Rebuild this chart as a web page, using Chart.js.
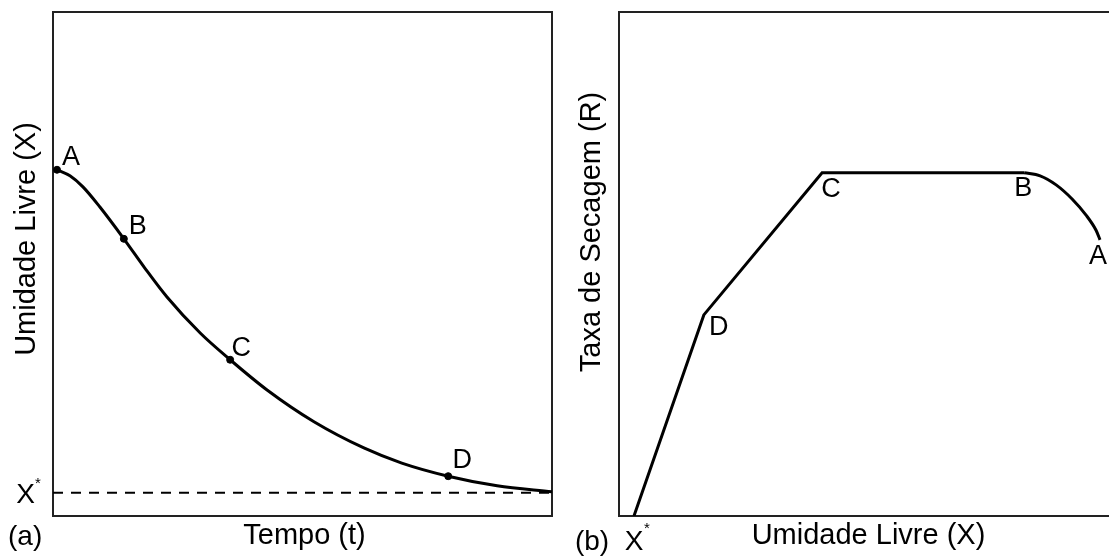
<!DOCTYPE html>
<html>
<head>
<meta charset="utf-8">
<script src="https://cdn.jsdelivr.net/npm/chart.js@4.4.1/dist/chart.umd.min.js"></script>
<style>
  html, body { margin: 0; padding: 0; background: #fff; overflow: hidden; width: 1109px; height: 557px; }
  canvas { position: absolute; top: 0; }
  #chartA { left: 0; }
  #chartB { left: 555px; }
</style>
</head>
<body>
<canvas id="chartA" width="585" height="557"></canvas>
<canvas id="chartB" width="590" height="557"></canvas>
<script>
// (a) curva de secagem: umidade livre x tempo
const tempo = [0.08, 0.34, 0.60, 0.94, 1.42, 1.84, 2.28, 2.95, 3.55, 4.29, 5.23, 6.23, 6.99, 7.92, 8.90, 10];
const umidade = [6.87, 6.75, 6.53, 6.13, 5.50, 4.92, 4.35, 3.63, 3.10, 2.50, 1.87, 1.35, 1.05, 0.79, 0.60, 0.48];
const pontosNomes = ['A', 'B', 'C', 'D'];
const pontosTempo = [0.08, 1.42, 3.55, 7.92];
const pontosUmidade = [6.87, 5.50, 3.10, 0.79];
const umidadeEquilibrio = 0.46;

// (b) taxa de secagem x umidade livre
const retaUmidade = [0.30, 1.70, 4.07, 8.12];
const retaTaxa = [0, 3.99, 6.81, 6.81];
const curvaUmidade = [8.12, 8.44, 8.76, 9.08, 9.36, 9.56, 9.64];
const curvaTaxa = [6.81, 6.75, 6.57, 6.29, 5.97, 5.67, 5.48];
const nomesB = ['A', 'B', 'C', 'D'];
const nomesBUmidade = [9.64, 8.12, 4.07, 1.70];
const nomesBTaxa = [5.48, 6.81, 6.81, 3.99];

const FONT = '"Liberation Sans", Arial, sans-serif';

function toXY(xs, ys) {
  return xs.map((x, i) => ({ x: x, y: ys[i] }));
}

// draws the frame around the plot area
const frame = {
  id: 'frame',
  beforeDatasetsDraw(chart) {
    const { ctx, chartArea: a } = chart;
    ctx.save();
    ctx.strokeStyle = '#222';
    ctx.lineWidth = 2;
    ctx.strokeRect(a.left, a.top, a.right - a.left, a.bottom - a.top);
    ctx.restore();
  }
};

function text(ctx, str, x, y, size, align) {
  ctx.font = size + 'px ' + FONT;
  ctx.textAlign = align || 'center';
  ctx.textBaseline = 'alphabetic';
  ctx.fillText(str, x, y);
}

function vtext(ctx, str, x, y, size) {
  ctx.save();
  ctx.translate(x, y);
  ctx.rotate(-Math.PI / 2);
  text(ctx, str, 0, 0, size);
  ctx.restore();
}

function pointLabels(chart, names, xs, ys, offsets) {
  const ctx = chart.ctx;
  const sx = chart.scales.x, sy = chart.scales.y;
  ctx.fillStyle = '#000';
  names.forEach((n, i) => {
    const px = sx.getPixelForValue(xs[i]) + offsets[i][0];
    const py = sy.getPixelForValue(ys[i]) + offsets[i][1];
    text(ctx, n, px, py + 0.358 * 27, 27);
  });
}

const labelsA = {
  id: 'labelsA',
  afterDraw(chart) {
    const { ctx, chartArea: a } = chart;
    const sy = chart.scales.y;
    ctx.save();
    ctx.fillStyle = '#000';
    pointLabels(chart, pontosNomes, pontosTempo, pontosUmidade, [[14, -14], [14, -14], [11, -13], [14, -18]]);
    vtext(ctx, 'Umidade Livre (X)', a.left - 18, a.top + 227, 29);
    text(ctx, 'Tempo (t)', (a.left + a.right) / 2 + 2, a.bottom + 28, 29);
    text(ctx, '(a)', 8, a.bottom + 29, 28, 'left');
    const yEq = sy.getPixelForValue(umidadeEquilibrio);
    text(ctx, 'X', 25.5, yEq + 10, 28);
    text(ctx, '*', 38, yEq - 5, 15);
    ctx.restore();
  }
};

const labelsB = {
  id: 'labelsB',
  afterDraw(chart) {
    const { ctx, chartArea: a } = chart;
    const sx = chart.scales.x;
    ctx.save();
    ctx.fillStyle = '#000';
    pointLabels(chart, nomesB, nomesBUmidade, nomesBTaxa, [[-2, 15], [-1, 14], [9, 15], [15, 10]]);
    vtext(ctx, 'Taxa de Secagem (R)', a.left - 19, a.top + 220, 29);
    text(ctx, 'Umidade Livre (X)', (a.left + a.right) / 2, a.bottom + 28, 29);
    const xEq = sx.getPixelForValue(retaUmidade[0]);
    text(ctx, '(b)', xEq - 59, a.bottom + 34, 28, 'left');
    text(ctx, 'X', xEq, a.bottom + 34, 28);
    text(ctx, '*', xEq + 13, a.bottom + 17, 15);
    ctx.restore();
  }
};

const commonScales = {
  x: { type: 'linear', min: 0, max: 10, display: false },
  y: { type: 'linear', min: 0, max: 10, display: false }
};

new Chart(document.getElementById('chartA'), {
  type: 'scatter',
  data: {
    datasets: [
      {
        data: toXY(tempo, umidade),
        showLine: true,
        borderColor: '#000',
        borderWidth: 3,
        pointRadius: 0,
        cubicInterpolationMode: 'monotone'
      },
      {
        data: [{ x: 0, y: umidadeEquilibrio }, { x: 10, y: umidadeEquilibrio }],
        showLine: true,
        borderColor: '#000',
        borderWidth: 2,
        borderDash: [10, 8],
        pointRadius: 0
      },
      {
        data: toXY(pontosTempo, pontosUmidade),
        showLine: false,
        pointRadius: 3.5,
        pointBackgroundColor: '#000',
        pointBorderColor: '#000'
      }
    ]
  },
  options: {
    responsive: false,
    animation: false,
    layout: { padding: { left: 53, top: 12, right: 33, bottom: 41 } },
    scales: commonScales,
    plugins: { legend: { display: false }, tooltip: { enabled: false } }
  },
  plugins: [frame, labelsA]
});

new Chart(document.getElementById('chartB'), {
  type: 'scatter',
  data: {
    datasets: [
      {
        data: toXY(retaUmidade, retaTaxa),
        showLine: true,
        borderColor: '#000',
        borderWidth: 3,
        pointRadius: 0,
        tension: 0
      },
      {
        data: toXY(curvaUmidade, curvaTaxa),
        showLine: true,
        borderColor: '#000',
        borderWidth: 3,
        pointRadius: 0,
        cubicInterpolationMode: 'monotone'
      }
    ]
  },
  options: {
    responsive: false,
    animation: false,
    layout: { padding: { left: 64, top: 12, right: 27, bottom: 41 } },
    scales: commonScales,
    plugins: { legend: { display: false }, tooltip: { enabled: false } }
  },
  plugins: [frame, labelsB]
});
</script>
</body>
</html>
